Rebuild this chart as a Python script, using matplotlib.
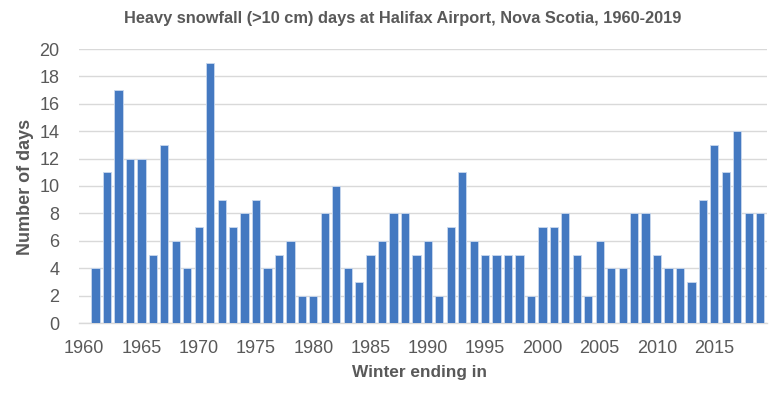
import matplotlib
matplotlib.use("Agg")
import matplotlib.pyplot as plt

years = list(range(1961, 2020))
days = [4, 11, 17, 12, 12, 5, 13, 6, 4,
        7, 19, 9, 7, 8, 9, 4, 5, 6, 2,
        2, 8, 10, 4, 3, 5, 6, 8, 8, 5,
        6, 2, 7, 11, 6, 5, 5, 5, 5, 2,
        7, 7, 8, 5, 2, 6, 4, 4, 8, 8,
        5, 4, 4, 3, 9, 13, 11, 14, 8, 8]
xticks = [1960, 1965, 1970, 1975, 1980, 1985, 1990, 1995, 2000, 2005, 2010, 2015]
yticks = list(range(0, 21, 2))

plt.rcParams['font.family'] = ['Liberation Sans', 'DejaVu Sans']
grey = '#595959'

fig = plt.figure(figsize=(7.8, 3.96), dpi=100)
ax = fig.add_axes([79/780, 73/396, (767-79)/780, (323-49)/396])
ax.bar(years, days, width=0.72, color='#4479C1', edgecolor='#c9d8ee', linewidth=0.6, zorder=3)
ax.set_xlim(1959.55, 2019.6)
ax.set_ylim(0, 20)
ax.set_yticks(yticks)
ax.set_xticks(xticks)
ax.set_xticklabels([str(t) for t in xticks])
ax.grid(axis='y', color='#d9d9d9', linewidth=1.0, zorder=0)
for s in ['top', 'right', 'left']:
    ax.spines[s].set_visible(False)
ax.spines['bottom'].set_color('#d9d9d9')
ax.spines['bottom'].set_linewidth(1.0)
ax.tick_params(axis='both', length=0, labelsize=13, colors=grey)
ax.tick_params(axis='x', pad=12)
ax.tick_params(axis='y', pad=14)
ax.set_ylabel('Number of days', fontsize=13, fontweight='bold', color=grey, va='center')
ax.set_xlabel('Winter ending in', fontsize=12.4, fontweight='bold', color=grey, va='center')
ax.yaxis.set_label_coords((25-79)/688, (323-187)/274)
ax.xaxis.set_label_coords((420-79)/688, (323-373)/274)
fig.text(403/780, 1-19/396, 'Heavy snowfall (>10 cm) days at Halifax Airport, Nova Scotia, 1960-2019',
         ha='center', va='center', fontsize=11.8, fontweight='bold', color=grey)
fig.savefig('out.png', dpi=100)
